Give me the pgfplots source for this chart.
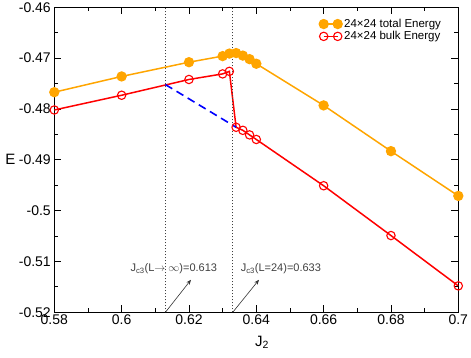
\documentclass[border=0pt]{standalone}
\usepackage{pgfplots}
\pgfplotsset{compat=1.18}
\usepackage{fontspec}
\setmainfont{Liberation Sans}
\usetikzlibrary{arrows.meta}

\definecolor{gorange}{RGB}{255,165,0}

\begin{document}
\begin{tikzpicture}
  \begin{axis}[
      name=ax,
      scale only axis,
      width=404pt, height=305pt,
      xmin=0.58, xmax=0.7,
      ymin=-0.52, ymax=-0.46,
      xtick={0.58,0.6,0.62,0.64,0.66,0.68,0.7},
      xticklabels={0.58,0.6,0.62,0.64,0.66,0.68,0.7},
      ytick={-0.52,-0.51,-0.5,-0.49,-0.48,-0.47,-0.46},
      yticklabels={-0.52,-0.51,-0.5,-0.49,-0.48,-0.47,-0.46},
      minor x tick num=1, minor y tick num=1,
      major tick length=7pt, minor tick length=4pt,
      tick style={black, line width=0.9pt},
      axis line style={line width=1.1pt},
      tick label style={font=\fontsize{14}{16}\selectfont},
      xticklabel style={yshift=1pt},
      xlabel={J\textsubscript{2}}, ylabel={E},
      label style={font=\fontsize{15}{17}\selectfont},
      xlabel style={at={(axis description cs:0.514,0)}, anchor=center, yshift=-30pt},
      ylabel style={at={(axis description cs:0,0.5)}, anchor=center, rotate=-90, xshift=-44pt},
      legend style={draw=none, fill=none, at={(0.97,0.975)}, anchor=north east,
        font=\fontsize{11.5}{13}\selectfont, row sep=-1.5pt},
      legend cell align=left,
      legend image code/.code={
        \draw[#1] plot coordinates {(0pt,0pt) (14pt,0pt)};
      },
    ]
    % total energy
    \addplot[gorange, line width=1.5pt, mark=*, mark size=4.4pt,
      mark options={fill=gorange, draw=gorange}] coordinates {
      (0.58,-0.4767) (0.60,-0.4736) (0.62,-0.4708) (0.63,-0.4696)
      (0.632,-0.4691) (0.634,-0.4690) (0.636,-0.4695) (0.638,-0.4702)
      (0.64,-0.4711) (0.66,-0.4793) (0.68,-0.4883) (0.70,-0.4971)
    };
    % bulk energy
    \addplot[red, line width=1.5pt, mark=o, mark size=4.2pt,
      mark options={draw=red, line width=1.1pt}] coordinates {
      (0.58,-0.4802) (0.60,-0.4773) (0.62,-0.4742) (0.63,-0.4731)
      (0.632,-0.4726) (0.634,-0.4836) (0.636,-0.4842) (0.638,-0.4851)
      (0.64,-0.4860) (0.66,-0.4951) (0.68,-0.5049) (0.70,-0.5148)
    };
    \legend{24×24 total Energy, 24×24 bulk Energy}
    % extrapolated line
    \addplot[blue, line width=1.6pt, dash pattern=on 8pt off 5pt, forget plot]
      coordinates {(0.613,-0.4752) (0.634,-0.4836)};
    % transition markers
    \addplot[black!75, line width=1pt, dotted, forget plot]
      coordinates {(0.613,-0.52) (0.613,-0.46)};
    \addplot[black!75, line width=1pt, dotted, forget plot]
      coordinates {(0.633,-0.52) (0.633,-0.46)};
    \draw[-{Stealth[length=5pt,width=4pt]}, black!80, line width=0.6pt]
      (axis cs:0.613,-0.52) -- (axis cs:0.6206,-0.5136);
    \draw[-{Stealth[length=5pt,width=4pt]}, black!80, line width=0.6pt]
      (axis cs:0.633,-0.52) -- (axis cs:0.6408,-0.5136);
    \node[font=\fontsize{11}{13}\selectfont, text=black!75, inner sep=0pt]
      at (axis cs:0.6155,-0.5115) {J\textsubscript{c3}(L$\rightarrow\infty$)=0.613};
    \node[font=\fontsize{11}{13}\selectfont, text=black!75, inner sep=0pt]
      at (axis cs:0.6473,-0.5115) {J\textsubscript{c3}(L=24)=0.633};
  \end{axis}
  \pgfresetboundingbox
  \path ([xshift=-54.3pt,yshift=-44.7pt]ax.south west)
    rectangle ([xshift=12.7pt,yshift=7.3pt]ax.north east);
\end{tikzpicture}
\end{document}
